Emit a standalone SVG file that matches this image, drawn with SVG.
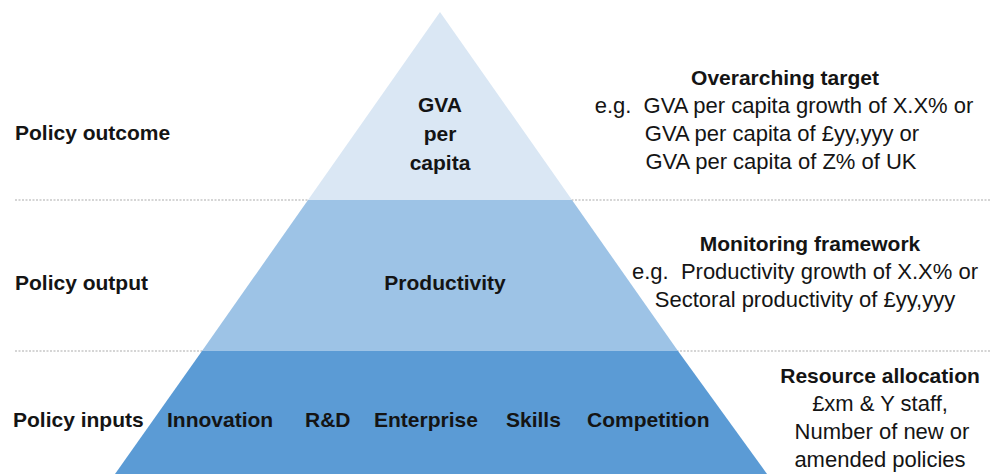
<svg xmlns="http://www.w3.org/2000/svg" width="995" height="474" viewBox="0 0 995 474">
<style>
text{font-family:"Liberation Sans",Arial,sans-serif;fill:#141414}
.b{font-weight:bold;font-size:21px}
.r{font-size:22px}
.m{text-anchor:middle}
.sep{stroke:#c8c8c8;stroke-width:1.5;stroke-dasharray:2 1.5;fill:none}
</style>
<rect width="995" height="474" fill="#ffffff"/>
<g id="separators">
<line class="sep" x1="15" y1="200" x2="990" y2="200"/>
<line class="sep" x1="15" y1="351" x2="990" y2="351"/>
</g>
<g id="tier-outcome">
<polygon points="440,12 308,200 572,200" fill="#dae7f4"/>
<text class="b m" x="440" y="112">GVA</text>
<text class="b m" x="440" y="141">per</text>
<text class="b m" x="440" y="170">capita</text>
</g>
<g id="tier-output">
<polygon points="308,200 572,200 678,351 202,351" fill="#9dc3e6"/>
<text class="b m" x="445" y="290">Productivity</text>
</g>
<g id="tier-inputs">
<polygon points="202,351 678,351 767,474 115,474" fill="#5b9bd5"/>
<text class="b" x="167" y="427">Innovation</text>
<text class="b" x="305" y="427">R&amp;D</text>
<text class="b" x="374" y="427">Enterprise</text>
<text class="b" x="506" y="427">Skills</text>
<text class="b" x="587" y="427">Competition</text>
</g>
<g id="labels-left">
<text class="b" x="15" y="140">Policy outcome</text>
<text class="b" x="15" y="290">Policy output</text>
<text class="b" x="13" y="427">Policy inputs</text>
</g>
<g id="target">
<text class="b m" x="785" y="85">Overarching target</text>
<text class="r m" x="784" y="113" xml:space="preserve">e.g.  GVA per capita growth of X.X% or</text>
<text class="r m" x="782" y="141">GVA per capita of £yy,yyy or</text>
<text class="r m" x="781" y="169">GVA per capita of Z% of UK</text>
</g>
<g id="monitoring">
<text class="b m" x="810" y="251">Monitoring framework</text>
<text class="r m" x="805" y="279" xml:space="preserve">e.g.  Productivity growth of X.X% or</text>
<text class="r m" x="805" y="307">Sectoral productivity of £yy,yyy</text>
</g>
<g id="resources">
<text class="b m" x="880" y="383">Resource allocation</text>
<text class="r m" x="880" y="411">£xm &amp; Y staff,</text>
<text class="r m" x="882" y="439">Number of new or</text>
<text class="r m" x="880" y="467">amended policies</text>
</g>
<g id="connectors"></g>
</svg>
